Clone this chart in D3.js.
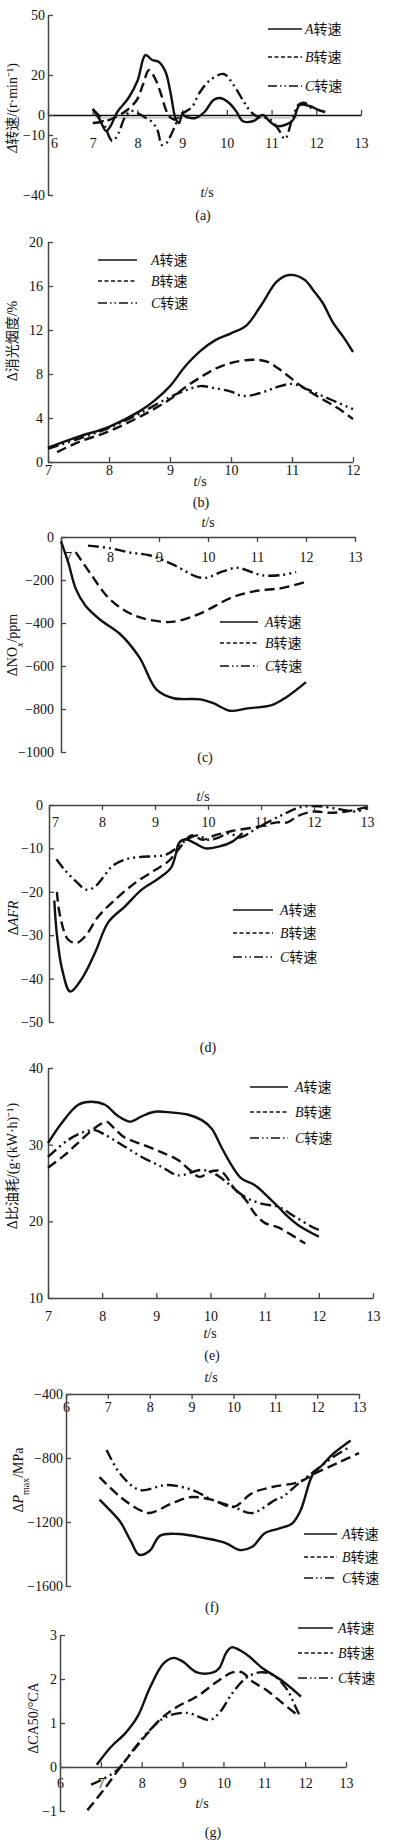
<!DOCTYPE html>
<html>
<head>
<meta charset="utf-8">
<script src="https://cdn.jsdelivr.net/npm/d3@7"></script>
<style>
	body { margin: 0; background: #fff; }
	text { font-family: "Liberation Serif", "Noto Sans CJK SC", serif; font-size: 14px; fill: #111; }
</style>
</head>
<body>
<script>
// DATA  [t (s), value]
const seriesNames = ['A', 'B', 'C'];

// (a) 转速
const speedA = [[7.0,3],[7.15,-2],[7.3,-8],[7.4,-5.5],[7.55,1.5],[7.8,8.5],[8.0,17],[8.18,30],[8.33,27.5],[8.48,26.5],[8.63,21.5],[8.75,10],[8.85,-1.5],[8.93,-4],[9.0,0],[9.1,-1],[9.3,-1.5],[9.5,1.5],[9.7,7.5],[9.85,8.5],[10.05,6],[10.22,1.5],[10.35,-3],[10.6,-3],[10.8,0],[10.95,-3],[11.1,-5.5],[11.3,-5],[11.48,-2.5],[11.63,5],[11.85,4.5],[12.05,2.5],[12.2,1.5]];
const speedB = [[7.0,-4],[7.3,-3],[7.6,0],[7.8,3],[8.0,8],[8.12,15],[8.26,22.5],[8.4,18],[8.52,11],[8.63,3],[8.72,-1],[8.85,-2.5]];
const speedC = [[7.0,3],[7.2,-2],[7.44,-13],[7.58,-9],[7.7,-2],[7.85,2],[8.0,1],[8.15,-1],[8.3,-3],[8.44,-7],[8.55,-15],[8.65,-14],[8.75,-10],[8.85,-5],[8.95,0],[9.1,2],[9.22,4],[9.4,11.5],[9.63,17.5],[9.93,20.5],[10.15,15],[10.37,7],[10.52,2],[10.7,-1],[10.95,-2],[11.15,-7],[11.3,-12],[11.45,-3],[11.6,5],[11.75,6],[11.9,3]];
const speedRef = [[7.05,-1.5],[11.6,-1.5]];

// (b) 消光烟度
const smokeA = [[7,1.3],[7.5,2.3],[8,3.2],[8.5,4.6],[8.75,5.6],[9,6.9],[9.25,8.7],[9.5,10.1],[9.75,11.1],[10,11.7],[10.25,12.4],[10.5,14.3],[10.75,16.4],[10.95,17],[11.2,16.6],[11.35,15.6],[11.5,14.5],[11.67,12.7],[11.85,11.3],[12,10]];
const smokeB = [[7.15,0.9],[7.5,1.8],[8,2.8],[8.5,4.1],[9,5.7],[9.25,6.8],[9.5,7.7],[9.75,8.5],[10,9.0],[10.35,9.3],[10.6,9.1],[10.85,8.2],[11.15,6.9],[11.5,5.7],[11.75,4.9],[12,3.9]];
const smokeC = [[7,1.2],[7.5,2.1],[8,3.1],[8.5,4.4],[9,5.9],[9.3,6.6],[9.5,6.9],[9.75,6.7],[10,6.4],[10.2,6.0],[10.5,6.3],[10.75,6.8],[11,7.1],[11.25,6.6],[11.5,6.0],[11.75,5.4],[12,4.8]];

// (c) NOx
const noxA = [[7,-20],[7.15,-120],[7.3,-240],[7.5,-320],[7.8,-385],[8.2,-450],[8.6,-560],[8.95,-710],[9.3,-750],[9.85,-755],[10.1,-772],[10.45,-808],[10.8,-797],[11.3,-782],[11.6,-745],[12,-675]];
const noxB = [[7.3,-70],[7.6,-170],[8,-290],[8.5,-365],[9.1,-395],[9.4,-390],[9.85,-355],[10.5,-280],[11,-250],[11.5,-238],[12,-208]];
const noxC = [[7.55,-40],[8,-52],[8.4,-72],[8.8,-85],[9.3,-130],[9.75,-183],[9.95,-190],[10.3,-160],[10.6,-143],[10.85,-160],[11.1,-178],[11.5,-177],[11.8,-163]];

// (d) AFR
const afrA = [[7.1,-22],[7.15,-30],[7.25,-38],[7.4,-43],[7.62,-40],[7.87,-34],[8.12,-27],[8.43,-23.4],[8.75,-19.5],[9.06,-17],[9.3,-14.5],[9.4,-11],[9.45,-8.8],[9.57,-7.9],[9.75,-8.8],[9.95,-10],[10.2,-9.6],[10.45,-8.5],[10.65,-6.5]];
const afrB = [[7.15,-20],[7.2,-25],[7.36,-31],[7.52,-31.8],[7.68,-30.3],[7.93,-25.7],[8.25,-21.8],[8.62,-18],[9.0,-15],[9.25,-13],[9.44,-10.3],[9.69,-7],[9.9,-8],[10.13,-7],[10.45,-6],[10.95,-5],[11.3,-4],[11.5,-4],[11.7,-2.5],[12.0,-1.5],[12.3,-1.8],[12.6,-1.5],[13,-0.5]];
const afrC = [[7.14,-12.5],[7.3,-15],[7.5,-17.5],[7.7,-19.5],[7.85,-19],[8.0,-17],[8.2,-14],[8.45,-12.5],[8.7,-12],[9.0,-11.8],[9.2,-11.5],[9.4,-10],[9.6,-8],[9.8,-7],[10.0,-8],[10.2,-7.5],[10.4,-6.5],[10.6,-7.5],[10.9,-5.5],[11.2,-3.5],[11.45,-2],[11.75,-0.5],[12.1,-0.3],[12.5,-1],[12.8,-1.5],[13,-0.7]];

// (e) 比油耗
const bsfcA = [[7,30.2],[7.25,32.8],[7.56,35.2],[7.8,35.6],[8.05,35.2],[8.3,33.7],[8.51,33],[8.73,33.7],[8.97,34.3],[9.28,34.2],[9.59,33.9],[9.84,33.2],[10.02,32.1],[10.2,29.7],[10.39,27.3],[10.57,25.6],[10.82,24.7],[11.06,23.2],[11.25,21.9],[11.43,20.6],[11.62,19.5],[12,18]];
const bsfcB = [[7,27],[7.3,28.6],[7.55,30.2],[7.75,31.5],[7.95,32.6],[8.08,33],[8.2,32.3],[8.4,31],[8.75,30],[9.1,29],[9.4,28],[9.6,26.8],[9.8,25.8],[10.0,26.5],[10.2,26.5],[10.45,24.2],[10.65,22.8],[10.82,21],[11.0,19.8],[11.25,19.2],[11.5,18.2],[11.75,17.1]];
const bsfcC = [[7,28.4],[7.37,30.6],[7.68,31.7],[7.87,31.9],[8.05,31.3],[8.36,30],[8.73,28.4],[9.1,27.1],[9.4,26],[9.84,26.7],[10.08,26.2],[10.33,24.9],[10.63,23.2],[10.94,22.3],[11.25,21.9],[11.56,20.6],[11.87,19.3],[12,18.9]];

// (f) Pmax
const pmaxA = [[6.8,-1060],[7.1,-1140],[7.3,-1200],[7.55,-1320],[7.75,-1405],[8.0,-1380],[8.25,-1285],[8.7,-1275],[9.3,-1300],[9.8,-1330],[10.15,-1375],[10.45,-1355],[10.75,-1270],[11.1,-1240],[11.4,-1210],[11.6,-1130],[11.9,-900],[12.1,-850],[12.4,-770],[12.8,-690]];
const pmaxB = [[6.8,-920],[7.3,-1044],[7.76,-1125],[8.0,-1144],[8.55,-1081],[9.0,-1044],[9.5,-1062],[10.0,-1106],[10.45,-1019],[10.93,-981],[11.57,-950],[11.97,-894],[12.5,-830],[13,-769]];
const pmaxC = [[6.97,-750],[7.3,-900],[7.76,-1000],[8.4,-969],[9.02,-1000],[9.5,-1062],[10.0,-1106],[10.45,-1144],[11.0,-1062],[11.17,-1044],[11.57,-956],[11.97,-875],[12.38,-794],[12.78,-731]];

// (g) CA50
const ca50A = [[6.9,0.05],[7.24,0.45],[7.6,0.77],[7.9,1.15],[8.2,1.8],[8.53,2.35],[8.78,2.48],[9.0,2.4],[9.35,2.15],[9.75,2.15],[9.9,2.25],[10.07,2.6],[10.2,2.72],[10.55,2.57],[10.95,2.25],[11.45,1.95],[11.9,1.6]];
const ca50B = [[6.67,-0.98],[7.07,-0.52],[7.48,0],[7.95,0.55],[8.44,1.07],[8.85,1.36],[9.35,1.6],[9.83,1.93],[10.22,2.15],[10.46,2.15],[10.7,1.95],[11.05,1.75],[11.45,1.45],[11.85,1.15]];
const ca50C = [[6.76,-0.4],[7.0,-0.3],[7.4,-0.07],[7.8,0.4],[8.2,0.84],[8.6,1.14],[9.1,1.23],[9.67,1.07],[9.9,1.23],[10.22,1.68],[10.55,2.02],[10.88,2.15],[11.2,2.1],[11.55,1.77],[11.75,1.4],[11.85,1.2]];

// tick values
const ticksT6 = [6, 7, 8, 9, 10, 11, 12, 13];
const ticksT7 = [7, 8, 9, 10, 11, 12, 13];
const ticksT712 = [7, 8, 9, 10, 11, 12];
const ticksSpeed = [50, 20, 0, -10, -40];
const ticksSmoke = [0, 4, 8, 12, 16, 20];
const ticksNox = [0, -200, -400, -600, -800, -1000];
const ticksAfr = [0, -10, -20, -30, -40, -50];
const ticksBsfc = [10, 20, 30, 40];
const ticksPmax = [-400, -800, -1200, -1600];
const ticksCa50 = [-1, 0, 1, 2, 3];

// SETUP
const svg = d3.select('body').append('svg')
	.attr('width', 396)
	.attr('height', 1846);

const lineDash = { A: null, B: '10,5', C: '11,4,2,4,2,4' };
const legendDash = { A: null, B: '4,2.5', C: '9,3,1.5,3,1.5,3' };

// FUNCTIONS
function drawPanel(p) {
	let x = d3.scaleLinear().domain(p.xDomain).range(p.xRange);
	let y = d3.scaleLinear().domain(p.yDomain).range(p.yRange);
	let g = svg.append('g');

	// x axis
	let xg = g.append('g')
		.attr('transform', `translate(0,${y(p.xAxisAt)})`)
		.call(d3.axisBottom(x).tickValues(p.xTicks).tickFormat(d3.format('d'))
			.tickSizeInner(p.xTickSize).tickSizeOuter(0).tickPadding(p.xPad));
	xg.select('.domain').attr('stroke', p.xAxisColor || '#444').attr('stroke-width', 1.5);
	xg.selectAll('.tick line').attr('stroke', '#444').attr('stroke-width', 1.3);
	if (p.firstDx) xg.select('.tick text').attr('dx', p.firstDx);

	// y axis
	let yg = g.append('g')
		.attr('transform', `translate(${p.xRange[0]},0)`)
		.call(d3.axisLeft(y).tickValues(p.yTicks).tickFormat(d3.format('d'))
			.tickSizeInner(-5).tickSizeOuter(0).tickPadding(p.yPad));
	yg.select('.domain').attr('stroke', '#444').attr('stroke-width', 1.5);
	yg.selectAll('.tick line').attr('stroke', '#444').attr('stroke-width', 1.3);

	let line = d3.line()
		.x(d => x(d[0]))
		.y(d => y(d[1]))
		.curve(d3.curveCatmullRom.alpha(0.5));

	if (p.ref) {
		g.append('path')
			.attr('d', line(p.ref))
			.attr('fill', 'none')
			.attr('stroke', '#aaa')
			.attr('stroke-width', 1.2);
	}

	p.series.forEach((s, i) => {
		g.append('path')
			.attr('d', line(s))
			.attr('fill', 'none')
			.attr('stroke', '#111')
			.attr('stroke-width', 2.4)
			.attr('stroke-dasharray', lineDash[seriesNames[i]]);
	});

	// legend
	seriesNames.forEach((name, i) => {
		let ly = p.legend.rows[i];
		g.append('line')
			.attr('x1', p.legend.x1).attr('x2', p.legend.x2)
			.attr('y1', ly).attr('y2', ly)
			.attr('stroke', '#111')
			.attr('stroke-width', 1.5)
			.attr('stroke-dasharray', legendDash[name]);
		let t = g.append('text')
			.attr('x', p.legend.tx)
			.attr('y', ly)
			.attr('dy', '0.35em');
		t.append('tspan').attr('font-style', 'italic').text(name);
		t.append('tspan').text('转速');
	});

	// t/s
	let ts = g.append('text').attr('x', p.tLabel[0]).attr('y', p.tLabel[1]).attr('text-anchor', 'middle');
	ts.append('tspan').attr('font-style', 'italic').text('t');
	ts.append('tspan').text('/s');

	// (a) ...
	g.append('text')
		.attr('x', p.caption[0]).attr('y', p.caption[1])
		.attr('text-anchor', 'middle')
		.text(p.captionText);

	// y label
	let yl = g.append('text')
		.attr('transform', `translate(${p.yLabel[0]},${p.yLabel[1]}) rotate(-90)`)
		.attr('text-anchor', 'middle')
		.attr('dy', '0.35em');
	p.yLabelParts.forEach(part => {
		let sp = yl.append('tspan').text(part.t);
		if (part.i) sp.attr('font-style', 'italic');
		if (part.sub) sp.attr('baseline-shift', 'sub').attr('font-size', '10px');
	});
}

// PANELS
drawPanel({
	xDomain: [6, 13], xRange: [48, 361], yDomain: [-40, 50], yRange: [195, 15],
	xAxisAt: 0, xTicks: ticksT6, xTickSize: -5, xPad: 23, xAxisColor: '#111', firstDx: 6,
	yTicks: ticksSpeed, yPad: 3,
	series: [speedA, speedB, speedC], ref: speedRef,
	legend: { x1: 268, x2: 302, tx: 305, rows: [29, 57, 86] },
	tLabel: [207, 197], caption: [203, 220], captionText: '(a)',
	yLabel: [12, 108], yLabelParts: [{ t: 'Δ', i: true }, { t: '转速/(r·min⁻¹)' }]
});

drawPanel({
	xDomain: [7, 12], xRange: [48, 353], yDomain: [0, 20], yRange: [462, 242],
	xAxisAt: 0, xTicks: ticksT712, xTickSize: -5, xPad: 3,
	yTicks: ticksSmoke, yPad: 5,
	series: [smokeA, smokeB, smokeC],
	legend: { x1: 98, x2: 137, tx: 151, rows: [260, 281, 303] },
	tLabel: [200, 486], caption: [201, 507], captionText: '(b)',
	yLabel: [12, 341], yLabelParts: [{ t: 'Δ消光烟度/%' }]
});

drawPanel({
	xDomain: [7, 13], xRange: [61, 355], yDomain: [-1000, 0], yRange: [752, 537],
	xAxisAt: 0, xTicks: ticksT7, xTickSize: 5, xPad: 10, firstDx: 7,
	yTicks: ticksNox, yPad: 7,
	series: [noxA, noxB, noxC],
	legend: { x1: 220, x2: 258, tx: 265, rows: [622, 643, 666] },
	tLabel: [208, 527], caption: [205, 762], captionText: '(c)',
	yLabel: [12, 645], yLabelParts: [{ t: 'ΔNO' }, { t: 'x', i: true, sub: true }, { t: '/ppm' }]
});

drawPanel({
	xDomain: [7, 13], xRange: [49, 367], yDomain: [-50, 0], yRange: [1022, 805],
	xAxisAt: 0, xTicks: ticksT7, xTickSize: 5, xPad: 7, firstDx: 6,
	yTicks: ticksAfr, yPad: 6,
	series: [afrA, afrB, afrC],
	legend: { x1: 233, x2: 273, tx: 280, rows: [910, 933, 957] },
	tLabel: [203, 801], caption: [208, 1052], captionText: '(d)',
	yLabel: [13, 918], yLabelParts: [{ t: 'Δ' }, { t: 'AFR', i: true }]
});

drawPanel({
	xDomain: [7, 13], xRange: [48, 373], yDomain: [10, 40], yRange: [1298, 1068],
	xAxisAt: 10, xTicks: ticksT7, xTickSize: -5, xPad: 13,
	yTicks: ticksBsfc, yPad: 5,
	series: [bsfcA, bsfcB, bsfcC],
	legend: { x1: 250, x2: 288, tx: 295, rows: [1087, 1112, 1138] },
	tLabel: [210, 1338], caption: [212, 1360], captionText: '(e)',
	yLabel: [12, 1166], yLabelParts: [{ t: 'Δ比油耗/(g·(kW·h)⁻¹)' }]
});

drawPanel({
	xDomain: [6, 13], xRange: [66, 359], yDomain: [-1600, -400], yRange: [1586, 1394],
	xAxisAt: -400, xTicks: ticksT6, xTickSize: 5, xPad: 3,
	yTicks: ticksPmax, yPad: 3,
	series: [pmaxA, pmaxB, pmaxC],
	legend: { x1: 304, x2: 337, tx: 342, rows: [1534, 1557, 1578] },
	tLabel: [211, 1382], caption: [212, 1612], captionText: '(f)',
	yLabel: [18, 1480], yLabelParts: [{ t: 'Δ' }, { t: 'P', i: true }, { t: 'max', sub: true }, { t: '/MPa' }]
});

drawPanel({
	xDomain: [6, 13], xRange: [60, 346], yDomain: [-1, 3], yRange: [1811, 1635],
	xAxisAt: 0, xTicks: ticksT6, xTickSize: -5, xPad: 11,
	yTicks: ticksCa50, yPad: 3,
	series: [ca50A, ca50B, ca50C],
	legend: { x1: 298, x2: 333, tx: 338, rows: [1628, 1653, 1678] },
	tLabel: [202, 1808], caption: [213, 1837], captionText: '(g)',
	yLabel: [33, 1718], yLabelParts: [{ t: 'ΔCA50/°CA' }]
});
</script>
</body>
</html>
